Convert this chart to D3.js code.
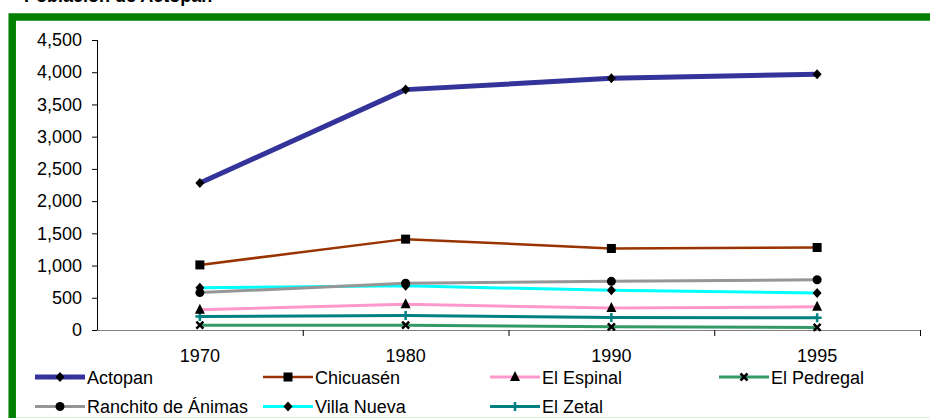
<!DOCTYPE html>
<html><head><meta charset="utf-8">
<script src="https://cdn.jsdelivr.net/npm/d3@7"></script>
<style>body{margin:0;background:#fff;}svg{display:block;font-family:"Liberation Sans",Arial,sans-serif;}</style>
</head><body><svg id="c" width="930" height="418"></svg>
<script>
const title = "Población de Actopan";
const years = ["1970", "1980", "1990", "1995"];
const yTicks = [0, 500, 1000, 1500, 2000, 2500, 3000, 3500, 4000, 4500];
const seriesNames = ["Actopan", "Chicuasén", "El Espinal", "El Pedregal", "Ranchito de Ánimas", "Villa Nueva", "El Zetal"];
const actopan = [2280, 3730, 3905, 3970];
const chicuasen = [1010, 1410, 1265, 1280];
const elEspinal = [315, 400, 340, 360];
const elPedregal = [75, 75, 50, 40];
const ranchito = [580, 725, 755, 780];
const villaNueva = [655, 685, 615, 575];
const elZetal = [210, 225, 195, 190];
const seriesValues = [actopan, chicuasen, elEspinal, elPedregal, ranchito, villaNueva, elZetal];

const styles = [
  {color:"#333399", w:5, m:"diamond", mc:"#000"},
  {color:"#993300", w:2.5, m:"square", mc:"#000"},
  {color:"#FF99CC", w:3, m:"triangle", mc:"#000"},
  {color:"#339966", w:3, m:"x", mc:"#000"},
  {color:"#969696", w:3, m:"circle", mc:"#000"},
  {color:"#00FFFF", w:3, m:"diamond", mc:"#000"},
  {color:"#008080", w:3, m:"plus", mc:"#008080"}
];

const FS = 18;
const svg = d3.select("#c");
// title (cut off at top, as in the reference)
svg.append("text").attr("x", 24).attr("y", 2).attr("font-weight","bold").attr("font-size",18).attr("fill","#000").text(title);
// frame
svg.append("rect").attr("x",12.2).attr("y",17).attr("width",960).attr("height",406)
  .attr("fill","#fff").attr("stroke","#008000").attr("stroke-width",7.5);
svg.append("line").attr("x1",16).attr("x2",930).attr("y1",417.5).attr("y2",417.5).attr("stroke","#d9efd9").attr("stroke-width",1);

const x0 = 97, x1 = 920, yTop = 40, yBot = 330;
const x = d3.scaleBand().domain(years).range([x0, x1]);
const y = d3.scaleLinear().domain([0, 4500]).range([yBot, yTop]);

// y axis
const ya = svg.append("g").attr("transform",`translate(${x0},0)`)
  .call(d3.axisLeft(y).tickValues(yTicks).tickSize(5).tickPadding(10).tickFormat(d3.format(",")));
ya.select(".domain").attr("stroke","#000").attr("d",`M0.5,${yTop}V${yBot}`);
ya.selectAll(".tick line").attr("stroke","#000");
ya.selectAll("text").attr("font-size",FS).attr("fill","#000").attr("font-family","Liberation Sans, Arial, sans-serif");

// x axis
const xa = svg.append("g").attr("transform",`translate(0,${yBot})`)
  .call(d3.axisBottom(x).tickSize(0).tickPadding(19));
xa.select(".domain").attr("stroke","#808080").attr("d",`M${x0},0.5H${x1}`);
xa.selectAll("text").attr("font-size",FS).attr("fill","#000").attr("font-family","Liberation Sans, Arial, sans-serif");
const bounds = years.map(d => x(d)).concat([x1]);
svg.append("g").selectAll("line").data(bounds.slice(1)).join("line")
  .attr("x1",d=>d+0.5).attr("x2",d=>d+0.5).attr("y1",yBot).attr("y2",yBot+6).attr("stroke","#000");

function marker(g, type, cx, cy, col) {
  if (type==="diamond") g.append("path").attr("d",`M${cx},${cy-5}L${cx+4.5},${cy}L${cx},${cy+5}L${cx-4.5},${cy}Z`).attr("fill",col);
  else if (type==="square") g.append("rect").attr("x",cx-4.5).attr("y",cy-4.5).attr("width",9).attr("height",9).attr("fill",col);
  else if (type==="triangle") g.append("path").attr("d",`M${cx},${cy-6}L${cx+5},${cy+4}L${cx-5},${cy+4}Z`).attr("fill",col);
  else if (type==="circle") g.append("circle").attr("cx",cx).attr("cy",cy).attr("r",4.5).attr("fill",col);
  else if (type==="x") g.append("path").attr("d",`M${cx-3.5},${cy-3.5}L${cx+3.5},${cy+3.5}M${cx+3.5},${cy-3.5}L${cx-3.5},${cy+3.5}`).attr("stroke",col).attr("stroke-width",2.5);
  else if (type==="plus") g.append("path").attr("d",`M${cx-4.5},${cy}H${cx+4.5}M${cx},${cy-4.5}V${cy+4.5}`).attr("stroke",col).attr("stroke-width",2.5);
}

const line = d3.line().x((d,i)=>x(years[i]) + x.bandwidth()/2).y(d=>y(d));
const order = [6,3,2,5,4,1,0];
order.forEach(si => {
  const s = styles[si], vals = seriesValues[si];
  const g = svg.append("g");
  g.append("path").attr("d", line(vals)).attr("fill","none").attr("stroke",s.color).attr("stroke-width",s.w).attr("stroke-linejoin","round");
  vals.forEach((v,i) => marker(g, s.m, x(years[i]) + x.bandwidth()/2, y(v), s.mc));
});

// legend
const legX = [35, 263, 490, 719];
const legY = [377, 406.5];
seriesNames.forEach((name, i) => {
  const s = styles[i];
  const lx = legX[i % 4], ly = legY[Math.floor(i / 4)];
  const g = svg.append("g");
  g.append("line").attr("x1",lx).attr("x2",lx+50).attr("y1",ly).attr("y2",ly).attr("stroke",s.color).attr("stroke-width",s.w);
  marker(g, s.m, lx+25, ly, s.mc);
  g.append("text").attr("x",lx+52).attr("y",ly+6.5).attr("font-size",FS).attr("fill","#000").text(name);
});
</script></body></html>
